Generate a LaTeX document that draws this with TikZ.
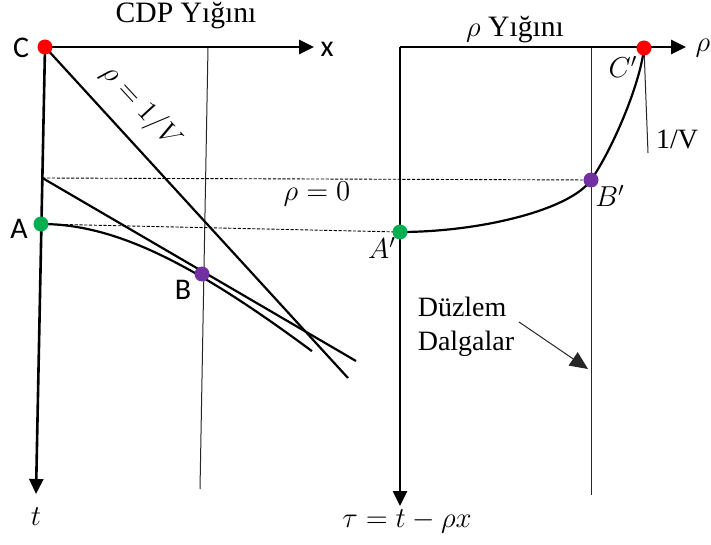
\documentclass[tikz,border=0pt]{standalone}
\usepackage{fontspec}
\setmainfont{Liberation Serif}
\newfontfamily\calibri{Carlito}
\usetikzlibrary{arrows.meta}
\definecolor{dotRed}{HTML}{FF0000}
\definecolor{dotGreen}{HTML}{00B050}
\definecolor{dotPurple}{HTML}{7030A0}

\begin{document}
\begin{tikzpicture}[
  x=0.5pt, y=-0.5pt,
  axis/.style={draw, line width=1.3pt, -{Triangle[length=7.5pt,width=7pt]}},
  guide/.style={draw, line width=0.5pt, black!85},
  wave/.style={draw, line width=1.1pt},
  level/.style={draw, line width=0.45pt, dash pattern=on 1.6pt off 0.8pt},
  dot/.style={circle, inner sep=0pt, minimum size=7.5pt},
  sans/.style={font=\calibri\fontsize{15}{18}\selectfont},
  serif/.style={font=\rmfamily\fontsize{14}{17}\selectfont},
  title/.style={font=\rmfamily\fontsize{14.8}{17}\selectfont},
  mathlbl/.style={font=\fontsize{14.5}{17}\selectfont}
]
\useasboundingbox (0,0) rectangle (711,545);

% left panel: CDP gather
\coordinate (C) at (45,47);
\coordinate (xtip) at (314,47);
\coordinate (ttip) at (36,494);
\coordinate (T0) at (42.4,178);
\coordinate (A) at (41,224);
\coordinate (B) at (202,274);
\coordinate (tanend) at (356,361);
\coordinate (vend) at (348,378);
\coordinate (cdptop) at (208,47);
\coordinate (cdpbot) at (200,489);

% right panel: rho gather
\coordinate (O2) at (400,47);
\coordinate (rhotip) at (686,47);
\coordinate (tautip) at (400,506);
\coordinate (Ap) at (400,232);
\coordinate (Bp) at (591,180);
\coordinate (Cp) at (644,48);
\coordinate (rtop) at (591,47);
\coordinate (rbot) at (591,495);
\coordinate (slopeend) at (648,153);
\coordinate (arrstart) at (519,322);
\coordinate (arrtip) at (588,369);

\draw[guide] (cdptop) -- (cdpbot);
\draw[guide] (rtop) -- (rbot);

\draw[level] (T0) -- (Bp);
\draw[level] (A) -- (Ap);

\draw[axis] (C) -- (xtip);
\draw[axis] (C) -- (ttip);
\draw[axis] (O2) -- (rhotip);
\draw[axis] (O2) -- (tautip);

\draw[wave] (C) -- (vend);
\draw[wave] (T0) -- (tanend);
\draw[wave] plot[domain=0:2.71, samples=60] ({41+100*\x},{47+100*sqrt(3.1329+\x*\x/1.2)});
\draw[wave] (Ap) .. controls (480,232) and (570,210) .. (Bp)
  .. controls (612,150) and (640,85) .. (Cp);

\draw[guide] (Cp) -- (slopeend);
\draw[guide, -{Triangle[length=9pt,width=8pt]}] (arrstart) -- (arrtip);

\node[dot, fill=dotRed] (Cdot) at (C) {};
\node[dot, fill=dotGreen] (Adot) at (A) {};
\node[dot, fill=dotPurple] (Bdot) at (B) {};
\node[dot, fill=dotRed] (Cpdot) at (Cp) {};
\node[dot, fill=dotPurple] (Bpdot) at (Bp) {};
\node[dot, fill=dotGreen] (Apdot) at (Ap) {};

\node[title] (cdptitle) at (186,16) {CDP Yığını};
\node[title] (rhotitle) at (515,30) {$\rho$ Yığını};

\node[sans] (Clbl) at (21,48) {C};
\node[sans] (xlbl) at (327,49) {x};
\node[sans] (Albl) at (19,229) {A};
\node[sans] (Blbl) at (183,290) {B};

\node[mathlbl] (tlbl) at (36,517) {$t$};
\node[mathlbl] (taulbl) at (407,521) {$\tau = t - \rho x$};
\node[mathlbl] (rholbl) at (703,48) {$\rho$};
\node[mathlbl] (rho0) at (317,194) {$\rho = 0$};
\node[mathlbl, rotate=-47.5] (rhoV) at (141,107) {$\rho = 1/V$};
\node[mathlbl] (Aplbl) at (382,248) {$A'$};
\node[mathlbl] (Bplbl) at (610,196) {$B'$};
\node[mathlbl] (Cplbl) at (623,67) {$C'$};
\node[serif] (slopelbl) at (677,139) {1/V};
\node[serif, align=left, inner sep=0pt] (plane) at (466,327) {Düzlem\\Dalgalar};

\end{tikzpicture}
\end{document}
